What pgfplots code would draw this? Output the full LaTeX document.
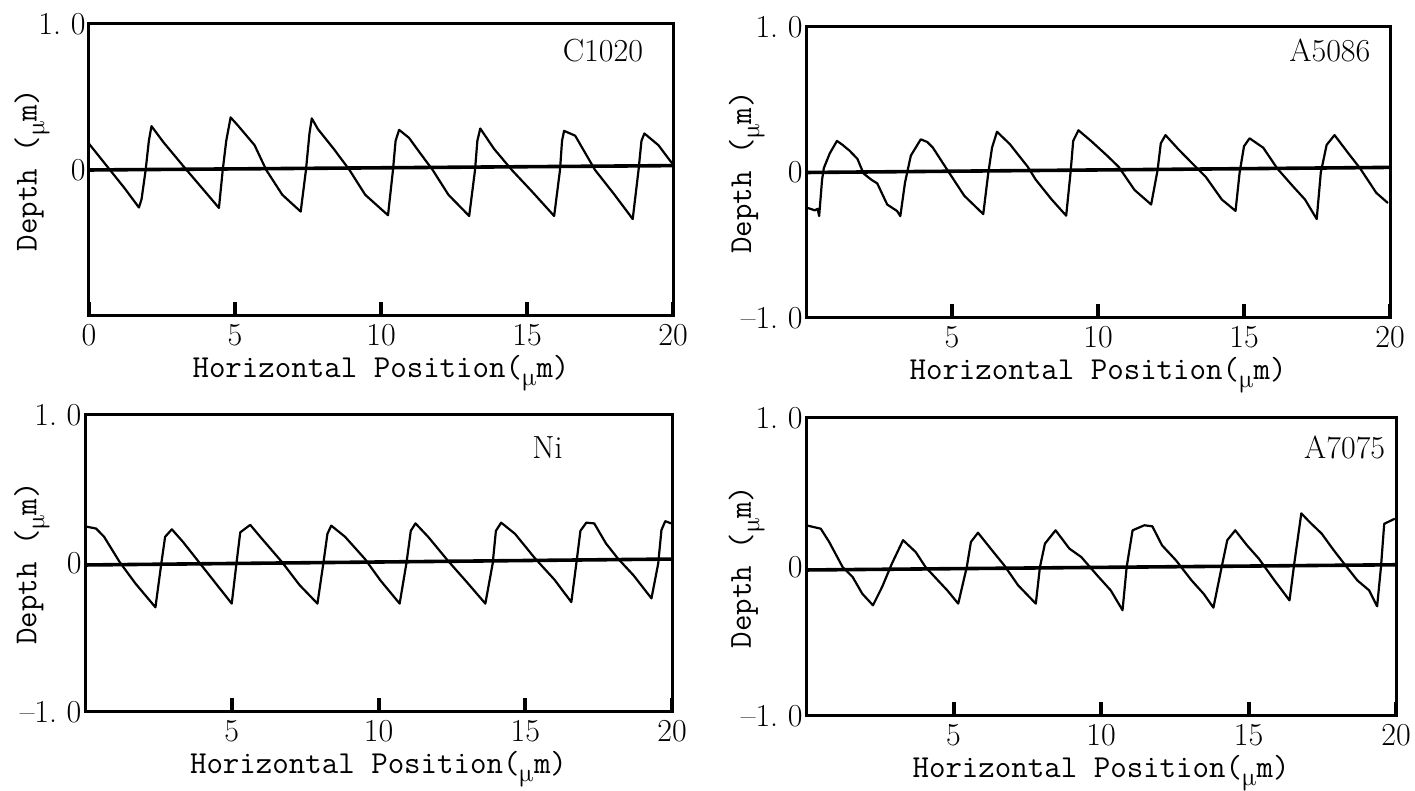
\documentclass[border=0pt]{standalone}
\usepackage{fontspec}
\usepackage{unicode-math}
\setmathfont{Latin Modern Math}
\usepackage{pgfplots}
\pgfplotsset{compat=1.18}
\newcommand\um{(\raisebox{-0.6ex}{\fontsize{26}{26}\selectfont$\symup{\mu}$}m)}
\newcommand\dotz{1.\hspace{0.3em}0}
\pgfplotsset{
  panel/.style={
    scale only axis, xmin=0, xmax=20, ymin=-1, ymax=1,
    axis line style={line width=3pt, line join=miter},
    tick align=inside, xtick pos=left, ytick pos=left,
    major tick length=14pt,
    xtick style={line width=4pt, black},
    ytick style={draw=none},
    tick label style={font=\fontsize{32}{36}\selectfont},
    xticklabel style={yshift=-5pt},
    xlabel style={font=\ttfamily\fontsize{32}{36}\selectfont, yshift=-2pt},
    ylabel style={font=\ttfamily\fontsize{32}{36}\selectfont, anchor=south},
    xlabel={Horizontal Position\um},
    xtick={5,10,15,20}, xticklabels={5,10,15,20},
    ytick={-1,0,1}, yticklabels={--\dotz,0,\dotz},
  },
  prof/.style={black, line width=2.2pt, line join=round},
  zl/.style={black, line width=3.6pt},
}
\begin{document}
\begin{tikzpicture}
\useasboundingbox (0pt,0pt) rectangle (1415pt,791pt);

% Top left: C1020
\begin{axis}[panel, at={(89pt,475pt)}, anchor=south west, width=584pt, height=292pt,
  xtick={0,5,10,15,20}, xticklabels={0,5,10,15,20},
  ytick={0,1}, yticklabels={0,\dotz},
  ylabel={Depth \um}, ylabel style={at={(axis description cs:-0.06,0.5)}}]
\addplot[zl] coordinates {(0,0) (20,0.03)};
\addplot[prof] coordinates {(0,0.18) (0.72,0) (1.2,-0.12) (1.71,-0.257) (1.8,-0.2) (1.94,0) (2.05,0.2) (2.14,0.30) (2.55,0.19) (3.3,0.01) (3.77,-0.10) (4.45,-0.26) (4.58,0) (4.7,0.2) (4.85,0.36) (5.12,0.30) (5.67,0.17) (6.07,0) (6.62,-0.17) (7.25,-0.285) (7.43,0) (7.55,0.25) (7.63,0.353) (7.84,0.28) (8.38,0.145) (8.92,0) (9.46,-0.17) (10.24,-0.31) (10.41,0) (10.5,0.2) (10.62,0.275) (10.96,0.22) (11.36,0.11) (11.77,0) (12.31,-0.17) (13.02,-0.315) (13.22,0) (13.3,0.2) (13.4,0.284) (13.87,0.145) (14.48,0) (15.16,-0.145) (15.93,-0.315) (16.13,0) (16.2,0.2) (16.27,0.268) (16.65,0.235) (17.33,0) (18.0,-0.17) (18.62,-0.336) (18.82,0) (18.92,0.2) (19.02,0.25) (19.5,0.17) (19.97,0.045)};
\node[font=\fontsize{32}{36}\selectfont] at (rel axis cs:0.88,0.91) {C1020};
\end{axis}

% Top right: A5086
\begin{axis}[panel, at={(806pt,473pt)}, anchor=south west, width=584pt, height=291pt,
  ylabel={Depth \um}, ylabel style={at={(axis description cs:-0.064,0.5)}}]
\addplot[zl] coordinates {(0,0) (20,0.035)};
\addplot[prof] coordinates {(0,-0.24) (0.3,-0.26) (0.4,-0.25) (0.45,-0.30) (0.55,-0.05) (0.61,0.03) (0.81,0.13) (1.06,0.217) (1.25,0.19) (1.49,0.15) (1.76,0.094) (1.97,-0.007) (2.24,-0.05) (2.44,-0.075) (2.78,-0.22) (3.12,-0.265) (3.23,-0.30) (3.39,-0.07) (3.59,0.116) (3.93,0.228) (4.15,0.21) (4.34,0.172) (4.88,0.005) (5.42,-0.16) (6.07,-0.286) (6.24,-0.007) (6.37,0.17) (6.54,0.28) (6.98,0.195) (7.59,0.04) (7.87,-0.05) (8.41,-0.185) (8.91,-0.297) (9.06,0) (9.15,0.217) (9.33,0.29) (9.76,0.217) (10.31,0.116) (10.71,0.038) (11.25,-0.12) (11.82,-0.22) (12.04,0.016) (12.15,0.2) (12.31,0.257) (12.75,0.16) (13.29,0.05) (13.69,-0.03) (14.24,-0.186) (14.71,-0.264) (14.85,0) (15.0,0.18) (15.19,0.235) (15.66,0.17) (16.14,0.027) (16.68,-0.096) (17.09,-0.186) (17.49,-0.32) (17.63,0) (17.83,0.19) (18.1,0.257) (18.58,0.13) (18.98,0.027) (19.53,-0.14) (19.93,-0.21)};
\node[font=\fontsize{32}{36}\selectfont] at (rel axis cs:0.897,0.92) {A5086};
\end{axis}

% Bottom left: Ni
\begin{axis}[panel, at={(85pt,79pt)}, anchor=south west, width=587pt, height=297pt,
  ylabel={Depth \um}, ylabel style={at={(axis description cs:-0.053,0.5)}}]
\addplot[zl] coordinates {(0,-0.01) (20,0.03)};
\addplot[prof] coordinates {(0,0.25) (0.38,0.235) (0.65,0.18) (1.18,0.01) (1.72,-0.135) (2.4,-0.295) (2.6,0) (2.73,0.18) (2.96,0.23) (3.34,0.145) (3.88,0.01) (4.42,-0.125) (5.0,-0.27) (5.16,0) (5.29,0.21) (5.63,0.26) (5.97,0.18) (6.71,0.01) (7.31,-0.145) (7.92,-0.27) (8.12,0) (8.26,0.2) (8.39,0.255) (8.86,0.18) (9.54,0.03) (10.07,-0.115) (10.72,-0.27) (10.95,0) (11.1,0.22) (11.26,0.27) (11.69,0.18) (12.36,0.02) (13.03,-0.13) (13.64,-0.27) (13.89,0) (14.0,0.22) (14.18,0.275) (14.65,0.2) (15.33,0.035) (16.0,-0.11) (16.57,-0.26) (16.74,0) (16.88,0.22) (17.08,0.275) (17.35,0.27) (17.75,0.135) (18.15,0.035) (18.69,-0.08) (19.3,-0.235) (19.53,0) (19.64,0.225) (19.77,0.285) (19.97,0.27)};
\node[font=\fontsize{32}{36}\selectfont] at (rel axis cs:0.788,0.89) {Ni};
\end{axis}

% Bottom right: A7075
\begin{axis}[panel, at={(806pt,75pt)}, anchor=south west, width=590pt, height=298pt,
  ylabel={Depth \um}, ylabel style={at={(axis description cs:-0.064,0.5)}}]
\addplot[zl] coordinates {(0,-0.02) (20,0.015)};
\addplot[prof] coordinates {(0,0.28) (0.5,0.257) (0.78,0.17) (1.24,0) (1.58,-0.067) (1.91,-0.18) (2.27,-0.257) (2.58,-0.134) (2.91,0.022) (3.29,0.18) (3.72,0.1) (4.05,0) (4.52,-0.1) (4.79,-0.157) (5.16,-0.246) (5.45,0) (5.59,0.168) (5.83,0.23) (6.26,0.123) (6.72,0.011) (7.19,-0.123) (7.79,-0.246) (7.93,0) (8.1,0.157) (8.46,0.246) (8.93,0.123) (9.33,0.067) (9.87,-0.056) (10.33,-0.157) (10.73,-0.29) (10.87,0) (11.07,0.246) (11.47,0.28) (11.74,0.273) (12.07,0.145) (12.54,0.045) (13.07,-0.09) (13.48,-0.18) (13.81,-0.273) (14.08,-0.01) (14.28,0.18) (14.55,0.246) (14.95,0.145) (15.35,0.056) (15.88,-0.09) (16.39,-0.224) (16.55,0.022) (16.79,0.36) (17.08,0.3) (17.48,0.224) (17.89,0.112) (18.29,0.01) (18.69,-0.09) (19.09,-0.157) (19.36,-0.264) (19.49,0) (19.6,0.29) (19.96,0.324)};
\node[font=\fontsize{32}{36}\selectfont] at (rel axis cs:0.913,0.90) {A7075};
\end{axis}
\end{tikzpicture}
\end{document}
